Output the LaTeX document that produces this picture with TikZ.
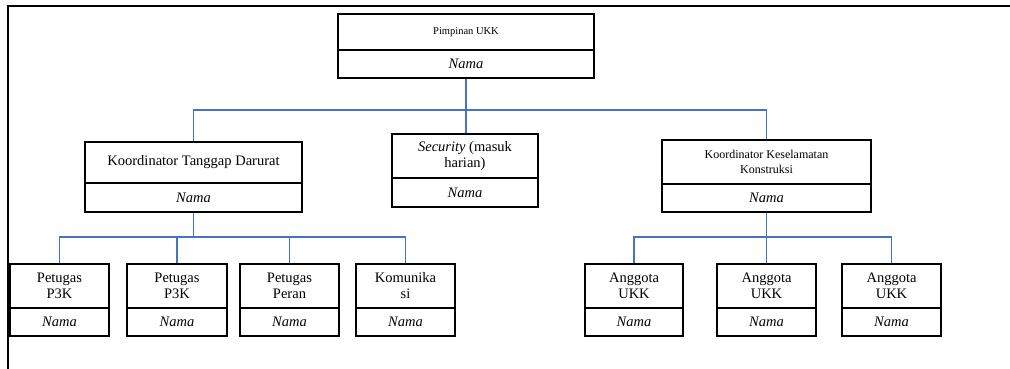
\documentclass[tikz,border=0pt]{standalone}
\usepackage{fontspec}
\setmainfont{Liberation Serif}
\definecolor{connblue}{RGB}{68,114,196}
\newcommand\obox[8][]{%
  \node[box,font=\bigf,#1,minimum width={(#4-#3)*1pt},minimum height={(#6-#5)*1pt}] (#2) at ({(#3+#4)/2},{(#5+#6)/2}) {#8};
  \node[box,font=\bigf\itshape,minimum width={(#4-#3)*1pt},minimum height={(#7-#6)*1pt}] (#2n) at ({(#3+#4)/2},{(#6+#7)/2}) {Nama};
}
\newcommand\bigf{\fontsize{14.5}{16}\selectfont}
\newcommand\smallf{\fontsize{10.5}{13}\selectfont}
\newcommand\midf{\fontsize{12}{15}\selectfont}
\begin{document}
\begin{tikzpicture}[x=1pt,y=-1pt,
  box/.style={draw=black,line width=1.4pt,rectangle,inner sep=0pt,align=center},
  conn/.style={draw=connblue,line width=1.3pt},
  frame/.style={draw=black,line width=1.5pt}]
\useasboundingbox (0,0) rectangle (1010,369);
\draw[frame] (8,369) -- (8,6) -- (1010,6);
% boxes
\obox[font=\smallf]{p}{338}{594}{14}{50}{78}{Pimpinan UKK}
\obox{kt}{85}{302}{142}{183}{212}{Koordinator Tanggap Darurat}
\obox{sec}{392}{538}{134}{178}{207}{\textit{Security} (masuk\\harian)}
\obox[font=\midf]{kk}{662}{871}{140}{184}{212}{Koordinator Keselamatan\\Konstruksi}
\obox{a1}{10}{109}{264}{308}{336}{Petugas\\P3K}
\obox{a2}{127}{227}{264}{308}{336}{Petugas\\P3K}
\obox{a3}{240}{339}{264}{308}{336}{Petugas\\Peran}
\obox{a4}{356}{455}{264}{308}{336}{Komunika\\si}
\obox{b1}{585}{683}{264}{308}{336}{Anggota\\UKK}
\obox{b2}{717}{816}{264}{308}{336}{Anggota\\UKK}
\obox{b3}{842}{941}{264}{308}{336}{Anggota\\UKK}
% connectors
\coordinate (bus0) at (466,110);
\coordinate (busa) at (193.5,237);
\coordinate (busb) at (766.5,237);
\draw[conn] (pn.south) -- (bus0);
\draw[conn] (kt.north) |- (bus0);
\draw[conn] (kk.north) |- (bus0);
\draw[conn] (bus0) -- (bus0 |- sec.north);
\draw[conn] (ktn.south) -- (busa);
\draw[conn] (a1.north) |- (busa);
\draw[conn] (a2.north) |- (busa);
\draw[conn] (a3.north) |- (busa);
\draw[conn] (a4.north) |- (busa);
\draw[conn] (kkn.south) -- (busb);
\draw[conn] (b1.north) |- (busb);
\draw[conn] (b2.north) |- (busb);
\draw[conn] (b3.north) |- (busb);
\end{tikzpicture}
\end{document}
